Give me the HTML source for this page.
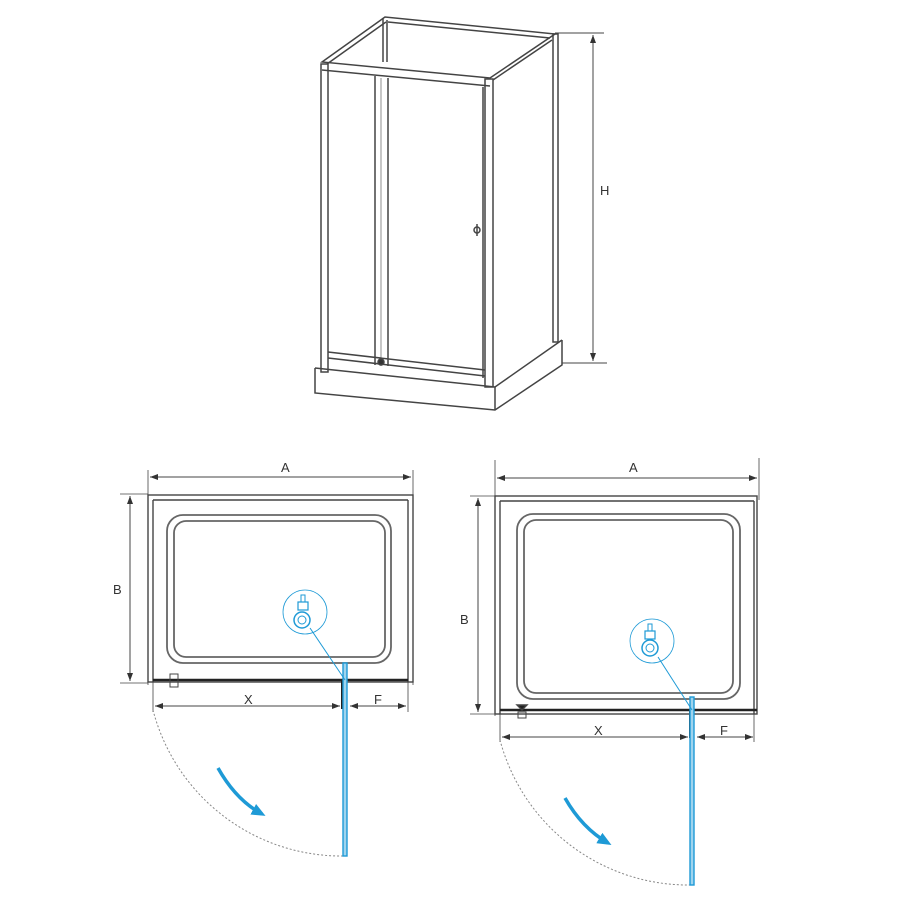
<!DOCTYPE html>
<html><head><meta charset="utf-8"><style>
html,body{margin:0;padding:0;background:#fff}
svg{display:block}
text{font-family:"Liberation Sans",sans-serif;font-size:13px;fill:#333}
</style></head><body>
<svg width="900" height="900" viewBox="0 0 900 900" xmlns="http://www.w3.org/2000/svg">
<defs>
<marker id="ar" markerWidth="8" markerHeight="6" refX="8" refY="3" orient="auto-start-reverse" markerUnits="userSpaceOnUse"><path d="M0,0 L8,3 L0,6 z" fill="#333"/></marker>
<marker id="ba" markerWidth="14" markerHeight="12" refX="10" refY="6" orient="auto" markerUnits="userSpaceOnUse"><path d="M0,0 L14,6 L0,12 z" fill="#1e9ad6"/></marker>
</defs>
<g fill="none" stroke="#444" stroke-width="1.5">
<path d="M315,368 L315,393 L495,410 L562,365 L562,340"/>
<path d="M315,368 L495,387 L562,340"/>
<line x1="495" y1="387" x2="495" y2="410"/>
<path d="M322,62 L385,17 L555,34 L490,78 Z"/>
<path d="M322,70 L490,86"/>
<path d="M388,22 L550,38"/>
<path d="M327,64 L386,22"/>
<path d="M493,80 L552,40"/>
<rect x="321" y="64" width="7" height="308"/>
<rect x="485" y="79" width="8" height="308"/>
<rect x="553" y="34" width="5" height="308"/>
<line x1="383" y1="18" x2="383" y2="62"/><line x1="387" y1="20" x2="387" y2="62"/>
<line x1="375" y1="76" x2="375" y2="365"/>
<line x1="388" y1="78" x2="388" y2="366"/>
<line x1="381" y1="78" x2="381" y2="366" stroke-width="0.6"/>
<line x1="483" y1="87" x2="483" y2="378"/>
<path d="M328,352 L485,370 M328,358 L485,376"/>
<circle cx="381" cy="362" r="3" fill="#333"/>
<circle cx="477" cy="230" r="3"/>
<line x1="477" y1="224" x2="477" y2="236"/>
<line x1="555" y1="33" x2="604" y2="33" stroke-width="1"/>
<line x1="562" y1="363" x2="607" y2="363" stroke-width="1"/>
<line x1="593" y1="35" x2="593" y2="361" stroke-width="1" marker-start="url(#ar)" marker-end="url(#ar)"/>
</g>
<text x="600" y="195">H</text>

<g fill="none" stroke="#444" stroke-width="1.4">
<line x1="148" y1="470" x2="148" y2="685" stroke-width="0.8"/>
<line x1="413" y1="470" x2="413" y2="685" stroke-width="0.8"/>
<line x1="150" y1="477" x2="411" y2="477" stroke-width="1" marker-start="url(#ar)" marker-end="url(#ar)"/>
<rect x="148" y="495" width="265" height="187"/>
<line x1="153" y1="500" x2="408" y2="500"/>
<line x1="153" y1="500" x2="153" y2="682"/>
<line x1="408" y1="500" x2="408" y2="682"/>
<rect x="167" y="515" width="224" height="148" rx="16" stroke="#666" stroke-width="1.8"/>
<rect x="174" y="521" width="211" height="136" rx="12" stroke="#666" stroke-width="1.8"/>
<line x1="153" y1="680" x2="408" y2="680" stroke-width="2.5" stroke="#222"/>
<rect x="170" y="674" width="8" height="13" stroke-width="1"/>
<line x1="120" y1="494" x2="148" y2="494" stroke-width="0.8"/>
<line x1="120" y1="683" x2="148" y2="683" stroke-width="0.8"/>
<line x1="130" y1="496" x2="130" y2="681" stroke-width="1" marker-start="url(#ar)" marker-end="url(#ar)"/>
<line x1="153" y1="682" x2="153" y2="712" stroke-width="0.8"/>
<line x1="408" y1="682" x2="408" y2="712" stroke-width="0.8"/>
<line x1="342" y1="680" x2="342" y2="709" stroke-width="2" stroke="#222"/>
<line x1="155" y1="706" x2="340" y2="706" stroke-width="1" marker-start="url(#ar)" marker-end="url(#ar)"/>
<line x1="350" y1="706" x2="406" y2="706" stroke-width="1" marker-start="url(#ar)" marker-end="url(#ar)"/>
<path d="M153,710 A195,195 0 0 0 345,856" stroke="#888" stroke-width="1" stroke-dasharray="2,2"/>
</g>
<text x="281" y="472">A</text><text x="113" y="594">B</text><text x="244" y="704">X</text><text x="374" y="704">F</text>
<g fill="none" stroke="#1e9ad6">
<rect x="343" y="663" width="4" height="193" stroke-width="1.4" fill="#9fd4ee"/>
<circle cx="305" cy="612" r="22" stroke-width="0.8"/>
<circle cx="302" cy="620" r="8" stroke-width="1.5"/>
<circle cx="302" cy="620" r="4" stroke-width="1"/>
<rect x="298" y="602" width="10" height="8" stroke-width="1.2"/>
<rect x="301" y="595" width="4" height="7" stroke-width="1"/>
<line x1="310" y1="628" x2="345" y2="680" stroke-width="1"/>
<path d="M218,768 Q236,800 262,814" stroke-width="3.5" marker-end="url(#ba)"/>
</g>

<g fill="none" stroke="#444" stroke-width="1.4">
<line x1="495" y1="460" x2="495" y2="716" stroke-width="0.8"/>
<line x1="759" y1="458" x2="759" y2="500" stroke-width="0.8"/>
<line x1="497" y1="478" x2="757" y2="478" stroke-width="1" marker-start="url(#ar)" marker-end="url(#ar)"/>
<rect x="495" y="496" width="262" height="218"/>
<line x1="500" y1="501" x2="754" y2="501"/>
<line x1="500" y1="501" x2="500" y2="714"/>
<line x1="754" y1="501" x2="754" y2="714"/>
<rect x="517" y="514" width="223" height="185" rx="16" stroke="#666" stroke-width="1.8"/>
<rect x="524" y="520" width="209" height="173" rx="12" stroke="#666" stroke-width="1.8"/>
<line x1="500" y1="710" x2="757" y2="710" stroke-width="2.5" stroke="#222"/>
<rect x="518" y="712" width="8" height="6" stroke-width="1"/>
<path d="M517,705 L527,705 L522,710 Z" fill="#222"/>
<line x1="470" y1="496" x2="495" y2="496" stroke-width="0.8"/>
<line x1="470" y1="714" x2="495" y2="714" stroke-width="0.8"/>
<line x1="478" y1="498" x2="478" y2="712" stroke-width="1" marker-start="url(#ar)" marker-end="url(#ar)"/>
<line x1="500" y1="714" x2="500" y2="742" stroke-width="0.8"/>
<line x1="754" y1="714" x2="754" y2="742" stroke-width="0.8"/>
<line x1="690" y1="710" x2="690" y2="738" stroke-width="2" stroke="#222"/>
<line x1="502" y1="737" x2="688" y2="737" stroke-width="1" marker-start="url(#ar)" marker-end="url(#ar)"/>
<line x1="697" y1="737" x2="753" y2="737" stroke-width="1" marker-start="url(#ar)" marker-end="url(#ar)"/>
<path d="M500,740 A195,195 0 0 0 692,885" stroke="#888" stroke-width="1" stroke-dasharray="2,2"/>
</g>
<text x="629" y="472">A</text><text x="460" y="624">B</text><text x="594" y="735">X</text><text x="720" y="735">F</text>
<g fill="none" stroke="#1e9ad6">
<rect x="690" y="697" width="4" height="188" stroke-width="1.4" fill="#9fd4ee"/>
<circle cx="652" cy="641" r="22" stroke-width="0.8"/>
<circle cx="650" cy="648" r="8" stroke-width="1.5"/>
<circle cx="650" cy="648" r="4" stroke-width="1"/>
<rect x="645" y="631" width="10" height="8" stroke-width="1.2"/>
<rect x="648" y="624" width="4" height="7" stroke-width="1"/>
<line x1="658" y1="657" x2="692" y2="710" stroke-width="1"/>
<path d="M565,798 Q582,828 608,843" stroke-width="3.5" marker-end="url(#ba)"/>
</g>
</svg>
</body></html>
